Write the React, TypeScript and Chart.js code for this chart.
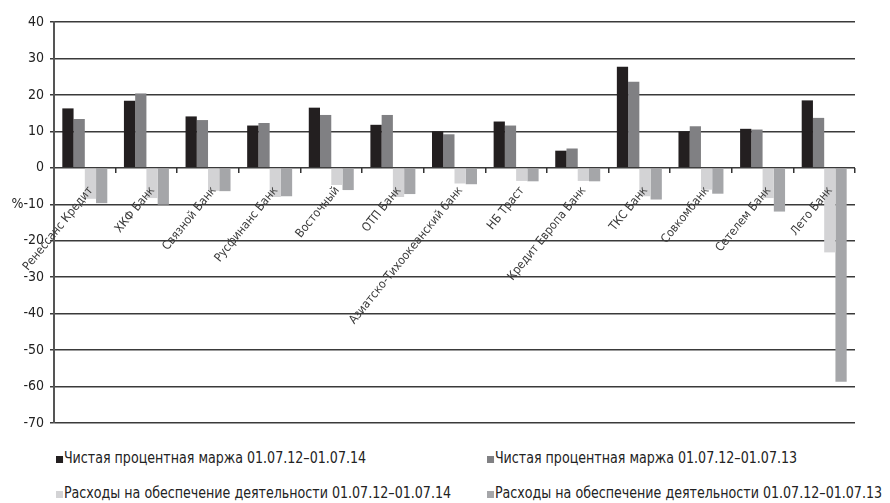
import React, { useEffect, useRef } from 'react';
import { Chart, registerables } from 'chart.js';

Chart.register(...registerables);

const categories = [
  'Ренессанс Кредит',
  'ХКФ Банк',
  'Связной Банк',
  'Русфинанс Банк',
  'Восточный',
  'ОТП Банк',
  'Азиатско-Тихоокеанский банк',
  'НБ Траст',
  'Кредит Европа Банк',
  'ТКС Банк',
  'Совкомбанк',
  'Сетелем Банк',
  'Лето Банк',
];

const nim14 = [16.3, 18.4, 14.1, 11.6, 16.5, 11.8, 10.0, 12.7, 4.7, 27.7, 10.0, 10.7, 18.5];
const nim13 = [13.4, 20.4, 13.1, 12.3, 14.5, 14.5, 9.2, 11.6, 5.3, 23.6, 11.4, 10.5, 13.7];
const opex14 = [-8.5, -8.3, -6.3, -8.0, -4.7, -8.0, -4.3, -3.6, -3.6, -7.8, -6.0, -8.3, -23.2];
const opex13 = [-9.7, -10.1, -6.4, -7.8, -6.1, -7.2, -4.5, -3.7, -3.7, -8.7, -7.1, -12.0, -58.7];

const seriesLabels = [
  'Чистая процентная маржа 01.07.12–01.07.14',
  'Чистая процентная маржа 01.07.12–01.07.13',
  'Расходы на обеспечение деятельности 01.07.12–01.07.14',
  'Расходы на обеспечение деятельности 01.07.12–01.07.13',
];
const seriesColors = ['#231f20', '#808083', '#d3d3d5', '#a5a6a9'];

const yTickValues = [40, 30, 20, 10, 0, -10, -20, -30, -40, -50, -60, -70];
const yTickLabels = ['40', '30', '20', '10', '0', '%-10', '-20', '-30', '-40', '-50', '-60', '-70'];

const FONT = '"Liberation Sans Narrow", "DejaVu Sans Condensed", "Roboto Condensed", "Arial Narrow", sans-serif';

export default function App() {
  const ref = useRef<HTMLCanvasElement | null>(null);

  useEffect(() => {
    if (!ref.current) return;
    const data = [nim14, nim13, opex14, opex13];
    const chart = new Chart(ref.current, {
      type: 'bar',
      data: {
        labels: categories,
        datasets: data.map((d, i) => ({
          label: seriesLabels[i],
          data: d,
          backgroundColor: seriesColors[i],
          borderWidth: 0,
          categoryPercentage: 0.73,
          barPercentage: 1.0,
        })),
      },
      options: {
        animation: false,
        responsive: false,
        maintainAspectRatio: false,
        layout: { padding: { left: 0, right: 35, top: 22, bottom: 17 } },
        plugins: {
          legend: { display: false },
          tooltip: { enabled: false },
          title: { display: false },
        },
        scales: {
          x: {
            position: { y: 0 } as any,
            afterFit: (s: any) => {
              s.height = 0;
            },
            grid: {
              drawOnChartArea: false,
              drawTicks: true,
              tickLength: 5,
              color: '#333333',
              lineWidth: 1.5,
              offset: true,
            },
            border: { display: false },
            ticks: {
              z: 1,
              autoSkip: false,
              minRotation: 51,
              maxRotation: 51,
              padding: 11,
              labelOffset: 6,
              color: '#3a3a3a',
              font: { family: FONT, size: 12 },
            },
          },
          y: {
            min: -70,
            max: 40,
            afterFit: (s: any) => {
              s.width = 54;
            },
            afterBuildTicks: (s: any) => {
              s.ticks = yTickValues.map((v) => ({ value: v }));
            },
            grid: {
              color: '#3a3a3a',
              lineWidth: 1.5,
              tickLength: 4,
            },
            border: { display: true, color: '#555555', width: 2 },
            ticks: {
              padding: 6,
              color: '#222222',
              font: { family: FONT, size: 14 },
              callback: (v: any) => {
                const idx = yTickValues.indexOf(Number(v));
                return idx >= 0 ? yTickLabels[idx] : String(v);
              },
            },
          },
        },
      },
    });
    return () => chart.destroy();
  }, []);

  const legendPos = [
    { left: 56, top: 456 },
    { left: 487, top: 456 },
    { left: 56, top: 491 },
    { left: 487, top: 491 },
  ];

  return (
    <div style={{ position: 'absolute', left: 0, top: 0, width: 890, height: 503, background: '#fff', overflow: 'hidden' }}>
      <canvas ref={ref} width={890} height={440} style={{ position: 'absolute', left: 0, top: 0, width: 890, height: 440 }} />
      {seriesLabels.map((label, i) => (
        <div
          key={i}
          style={{
            position: 'absolute',
            left: legendPos[i].left,
            top: legendPos[i].top - 6,
            whiteSpace: 'nowrap',
            fontFamily: FONT,
            fontSize: 16,
            lineHeight: '16px',
            color: '#222',
            display: 'flex',
            alignItems: 'flex-start',
            transform: 'scaleX(0.88)',
            transformOrigin: '0 0',
          }}
        >
          <span
            style={{
              display: 'inline-block',
              width: 8,
              height: 7,
              marginTop: 6,
              marginRight: 1,
              background: seriesColors[i],
            }}
          />
          <span>{label}</span>
        </div>
      ))}
    </div>
  );
}
